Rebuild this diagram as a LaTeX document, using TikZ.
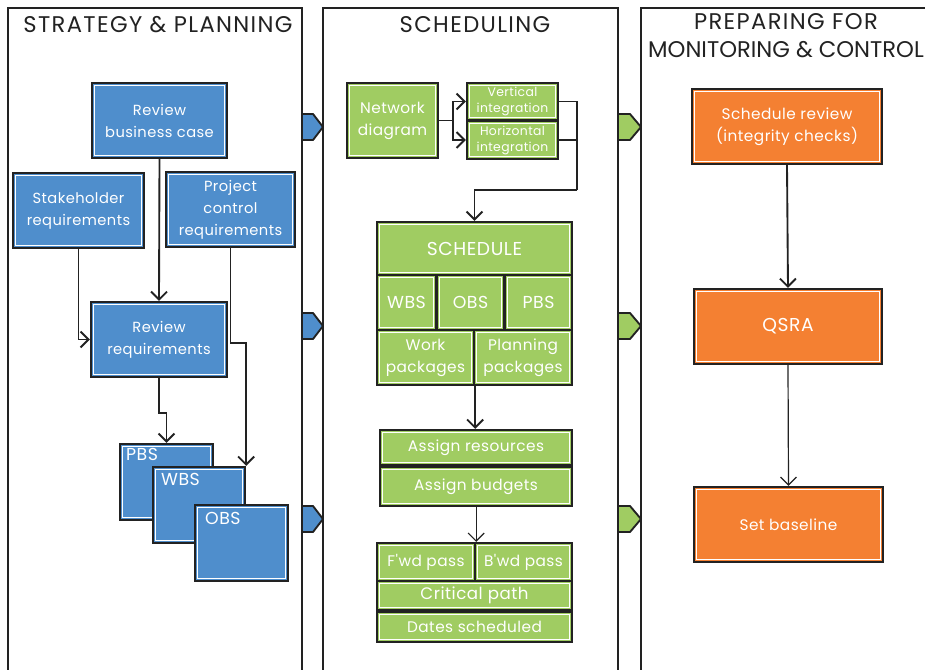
\documentclass[tikz,border=0pt]{standalone}
\usepackage{fontspec}
\setmainfont{Poppins}
\newfontfamily\boxfont[LetterSpace=3]{Poppins}
\newfontfamily\headfont[LetterSpace=6]{Poppins}
\newfontfamily\headfontB[LetterSpace=0]{Poppins}
\usetikzlibrary{arrows.meta}
\definecolor{bbl}{RGB}{79,142,204}
\definecolor{bgr}{RGB}{160,204,98}
\definecolor{bor}{RGB}{244,128,50}
\definecolor{ink}{RGB}{34,34,34}
\tikzset{
 area/.style args={#1/#2/#3/#4}{at={({(#1+#3)/2},{(#2+#4)/2})}, anchor=center,
   minimum width={(#3-#1)*0.75pt}, minimum height={(#4-#2)*0.75pt}},
 box/.style={draw=ink, line width=1.7pt, fill=#1, inner sep=0pt, text=white, align=center,
   font=\boxfont\fontsize{11}{16.5}\selectfont,
   path picture={\draw[white,line width=0.9pt] ([shift={(1.9pt,-1.9pt)}]path picture bounding box.north west) rectangle ([shift={(-1.9pt,1.9pt)}]path picture bounding box.south east);}},
 lane/.style={draw=ink, line width=1.5pt, fill=white},
 link/.style={draw=ink, line width=1.4pt},
 conn/.style={link, -{Straight Barb[length=6pt,width=12pt,line width=1.4pt]}},
 thinconn/.style={link, line width=0.9pt, -{Straight Barb[length=6pt,width=12pt,line width=0.9pt]}},
 tabshape/.style={draw=ink, line width=1.4pt, fill=#1, line join=round},
 head/.style={font=\headfont\fontsize{17}{21}\selectfont, text=ink, align=center},
 corner/.style={anchor=north west, text=white, inner sep=0pt, font=\boxfont\fontsize{13}{15}\selectfont},
 small/.style={font=\boxfont\fontsize{9.3}{12}\selectfont},
 mid/.style={font=\boxfont\fontsize{11.5}{16.5}\selectfont}
}
\begin{document}
\begin{tikzpicture}[x=0.75pt,y=-0.75pt]
\useasboundingbox (0,0) rectangle (925,669);
% lanes
\draw[lane] (8,8) rectangle (302,690);
\draw[lane] (323,8) rectangle (618,690);
\draw[lane] (641,8) rectangle (940,690);
\node[head] (h1) at (158,25) {STRATEGY \& PLANNING};
\node[head] (h2) at (475,25) {SCHEDULING};
\node[head] (h3) at (786,36) {PREPARING FOR\\{\headfontB MONITORING \& CONTROL}};
% tabs
\foreach \yy in {127,326,519}{
  \draw[tabshape=bbl] (302,\yy-13) -- (313,\yy-13) -- (323,\yy) -- (313,\yy+13) -- (302,\yy+13) -- cycle;
  \draw[tabshape=bgr] (618,\yy-13) -- (630,\yy-13) -- (641,\yy) -- (630,\yy+13) -- (618,\yy+13) -- cycle;
}
% left lane
\node[box=bbl, area=92/83/227/158] (rbc) {Review\\business case};
\node[box=bbl, area=13/173/144/248] (stk) {Stakeholder\\requirements};
\node[box=bbl, area=166/172/295/247] (pcr) {Project\\control\\requirements};
\node[box=bbl, area=91/302/227/377] (rrq) {Review\\requirements};
\node[box=bbl, area=120/444/213/520] (pbs) {};
\node[corner] (pbst) at ([shift={(7,5)}]pbs.north west) {PBS};
\node[box=bbl, area=153/467/245/543] (wbs) {};
\node[corner] (wbst) at ([shift={(9,7)}]wbs.north west) {WBS};
\node[box=bbl, area=195/505/288/581] (obs) {};
\node[corner] (obst) at ([shift={(11,8)}]obs.north west) {OBS};
\draw[conn] (rbc.south) -- (rrq.north);
\draw[conn] (stk.south) |- (rrq.west);
\draw[conn] (pcr.south) -- ++(0,95) -| (wbs.north east);
\draw[conn] (rrq.south) -- ++(0,35) -| (pbs.north);
% middle lane
\node[box=bgr, area=347/83/438/158, mid] (net) {Network\\diagram};
\node[box=bgr, area=467/83/558/120, small] (vi) {Vertical\\integration};
\node[box=bgr, area=467/121/558/159, small] (hi) {Horizontal\\integration};
\draw[conn] (net.east) -- ++(14,0) |- (vi.west);
\draw[conn] (net.east) -- ++(14,0) |- (hi.west);
\coordinate (jn) at (577,190);
\draw[link] (vi.east) -| (jn);
\draw[link] (hi.east) -| (jn);
\node[box=bgr, area=377/222/572/275, font=\boxfont\fontsize{14}{16}\selectfont] (sch) {SCHEDULE};
\draw[conn] (jn) -| (sch.north);
\node[box=bgr, area=377/275/436/330, font=\boxfont\fontsize{13}{15}\selectfont] (wbs2) {WBS};
\node[box=bgr, area=437/275/504/330, font=\boxfont\fontsize{13}{15}\selectfont] (obs2) {OBS};
\node[box=bgr, area=505/275/572/330, font=\boxfont\fontsize{13}{15}\selectfont] (pbs2) {PBS};
\node[box=bgr, area=377/330/474/385, mid] (wp) {Work\\packages};
\node[box=bgr, area=474/330/572/385, mid] (pp) {Planning\\packages};
\node[box=bgr, area=380/430/572/465, mid] (ar) {Assign resources};
\node[box=bgr, area=380/467/572/506, mid] (ab) {Assign budgets};
\draw[conn] (wp.south east) -- (wp.south east |- ar.north);
\node[box=bgr, area=377/543/475/581, mid] (fp) {F'wd pass};
\node[box=bgr, area=475/543/572/581, mid] (bp) {B'wd pass};
\node[box=bgr, area=377/581/572/610, font=\boxfont\fontsize{12.5}{15}\selectfont] (cp) {Critical path};
\node[box=bgr, area=377/612/572/642, mid] (ds) {Dates scheduled};
\draw[thinconn] (ab.south -| fp.north east) -- (fp.north east);
% right lane
\node[box=bor, area=692/89/882/164, mid] (sr) {Schedule review\\(integrity checks)};
\node[box=bor, area=694/289/882/364, font=\boxfont\fontsize{14}{16}\selectfont] (qs) {QSRA};
\node[box=bor, area=694/487/883/562, mid] (sb) {Set baseline};
\draw[conn] (sr.south) -- (qs.north);
\draw[thinconn] (qs.south) -- (sb.north);
\end{tikzpicture}
\end{document}
